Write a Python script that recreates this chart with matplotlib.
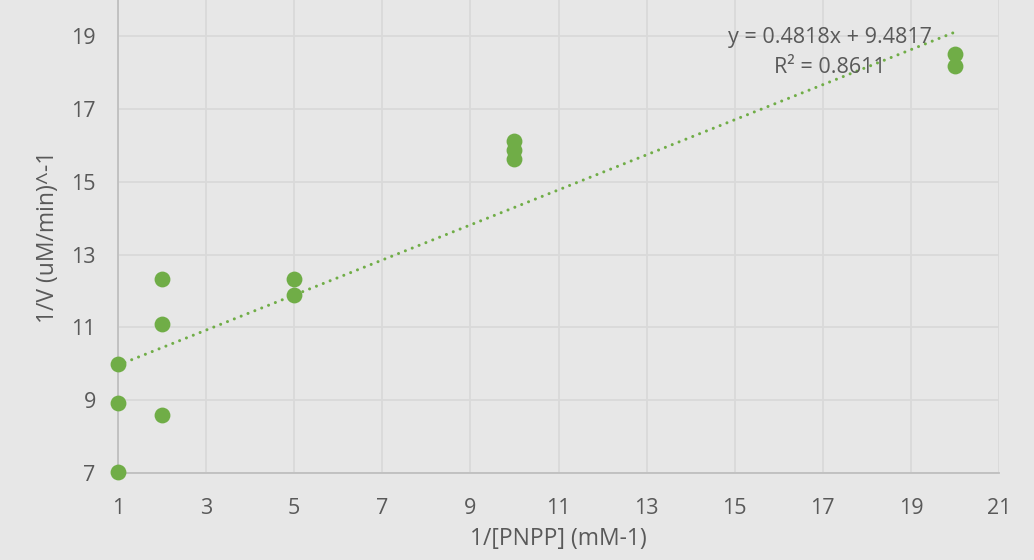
import numpy as np
import matplotlib
matplotlib.use("Agg")
import matplotlib.pyplot as plt

plt.rcParams['font.family'] = ['Open Sans', 'DejaVu Sans']

# Lineweaver-Burk data: 1/[S] vs 1/V
inv_s = [1, 1, 1, 2, 2, 2, 5, 5, 10, 10, 10, 20, 20]
inv_v = [10.0, 8.92, 7.03, 12.33, 11.09, 8.59, 12.33, 11.89, 16.12, 15.87, 15.63, 18.51, 18.18]

slope = 0.4818
intercept = 9.4817
r_squared = 0.8611

x_ticks = [1, 3, 5, 7, 9, 11, 13, 15, 17, 19, 21]
y_ticks = [7, 9, 11, 13, 15, 17, 19]

bg = '#e7e7e7'
green = '#70ad47'
text_col = '#595959'

fig = plt.figure(figsize=(10.34, 5.6), dpi=100)
fig.patch.set_facecolor(bg)
ax = fig.add_axes([118 / 1034, 1 - 473 / 560, (999 - 118) / 1034, 473 / 560])
ax.set_facecolor(bg)

ax.scatter(inv_s, inv_v, s=130, color=green, zorder=4, linewidths=0, clip_on=False)

# linear trendline from the fitted equation
xt = np.array([min(inv_s), max(inv_s)])
ax.plot(xt, slope * xt + intercept, color=green, linewidth=2.2,
        dashes=(0.01, 2.4), dash_capstyle='round', zorder=3)

ax.text(17.16, 18.98, f'y = {slope}x + {intercept}', ha='center', va='center',
        fontsize=15.5, color=text_col, zorder=5)
ax.text(17.16, 18.15, f'R² = {r_squared}', ha='center', va='center',
        fontsize=15.5, color=text_col, zorder=5)

ax.set_xlim(1, 21)
ax.set_ylim(7, 20)
ax.set_xticks(x_ticks)
ax.set_yticks(y_ticks)
ax.grid(True, color='#d9d9d9', linewidth=1.3, zorder=0)
ax.set_axisbelow(True)

for side in ('top', 'right'):
    ax.spines[side].set_visible(False)
for side in ('left', 'bottom'):
    ax.spines[side].set_color('#bfbfbf')
    ax.spines[side].set_linewidth(1.3)

ax.tick_params(length=0, labelsize=15.5, labelcolor=text_col)
ax.tick_params(axis='x', pad=18)
ax.tick_params(axis='y', pad=16)

ax.set_xlabel('1/[PNPP] (mM-1)', fontsize=16.5, color=text_col, labelpad=6)
ax.set_ylabel('1/V (uM/min)^-1', fontsize=16.5, color=text_col, labelpad=8)

fig.savefig('out.png', dpi=100, facecolor=bg)
